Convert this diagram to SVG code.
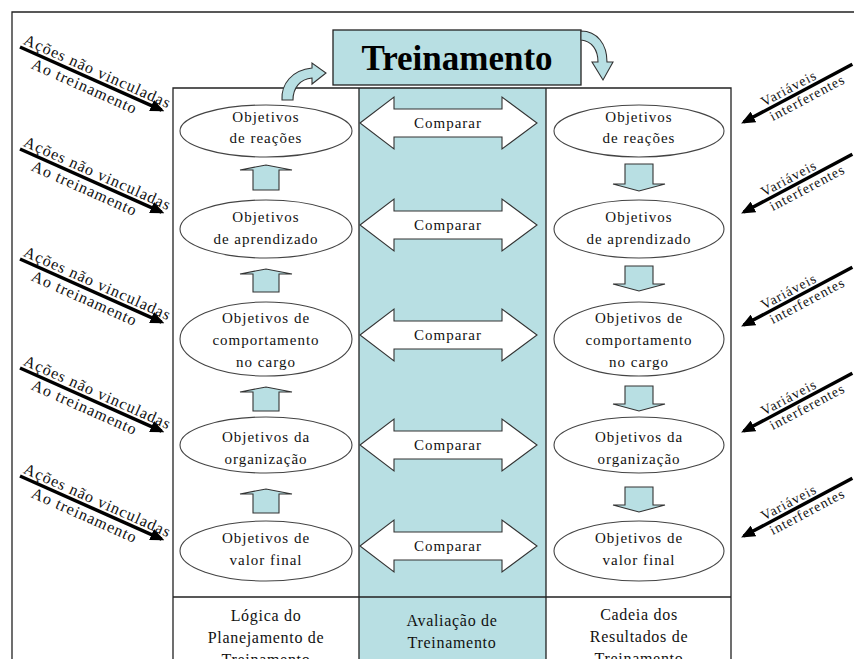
<svg xmlns="http://www.w3.org/2000/svg" width="854" height="659" viewBox="0 0 854 659">
<style>
.ln{fill:none;stroke:#222;stroke-width:1.3}
.teal{fill:#b8dfe3}
.ell{fill:#fff;stroke:#444;stroke-width:1.1}
.cmp{fill:#fff;stroke:#333;stroke-width:1.1}
.blk{fill:#b8dfe3;stroke:#333;stroke-width:1.1}
.t{font-family:"Liberation Serif","Times New Roman",serif;font-size:15px;letter-spacing:1px;text-anchor:middle;fill:#111}
.s{font-family:"Liberation Serif","Times New Roman",serif;font-size:16px;letter-spacing:1px;fill:#111}
.v{font-family:"Liberation Serif","Times New Roman",serif;font-size:14px;letter-spacing:1px;fill:#111}
.b{font-family:"Liberation Serif","Times New Roman",serif;font-size:16px;letter-spacing:0.7px;text-anchor:middle;fill:#111}
.dl{stroke:#000;stroke-width:3.5;marker-end:url(#ah)}
</style>
<defs>
<marker id="ah" markerUnits="userSpaceOnUse" markerWidth="14" markerHeight="12" refX="11" refY="6" orient="auto">
<path d="M0,0 L14,6 L0,12 Z" fill="#000"/>
</marker>
</defs>
<rect width="854" height="659" fill="#fff"/>
<!-- outer frame -->
<path class="ln" d="M12,659 L12,12 L854,12"/>
<!-- table -->
<g id="table">
<rect class="teal" x="359" y="88" width="187" height="571"/>
<path class="ln" d="M173,659 L173,88 L731,88 L731,659 M359,88 L359,659 M546,88 L546,659 M173,597 L731,597"/>
</g>
<!-- title -->
<g id="treinamento">
<rect x="333" y="30" width="248" height="55" fill="#b8dfe3" stroke="#222" stroke-width="1.3"/>
<text x="457" y="70" font-family="'Liberation Serif','Times New Roman',serif" font-size="35" font-weight="bold" text-anchor="middle" fill="#000">Treinamento</text>
</g>
<g id="connectors">
<!-- curved arrows -->
<path class="blk" d="M282,100 C281,84 292,70 312,68 L312,63 L326,73 L312,84 L312,78 C300,79 293,88 293,100 Z"/>
<path class="blk" d="M581,31 C597,31 607,44 607,62 L613,62 L603,80 L592,62 L598,62 C598,50 592,41 581,40 Z"/>
<!-- up arrows left -->
<path class="blk" d="M240,170 L266,165 L292,170 L279,170 L279,190 L253,190 L253,170 Z"/>
<path class="blk" d="M240,274 L266,269 L292,274 L279,274 L279,292 L253,292 L253,274 Z"/>
<path class="blk" d="M240,392 L266,387 L292,392 L279,392 L279,411 L253,411 L253,392 Z"/>
<path class="blk" d="M240,494 L266,489 L292,494 L279,494 L279,513 L253,513 L253,494 Z"/>
<!-- down arrows right -->
<path class="blk" d="M625,164 L653,164 L653,184 L665,184 L639,191 L613,184 L625,184 Z"/>
<path class="blk" d="M625,266 L653,266 L653,284 L665,284 L639,291 L613,284 L625,284 Z"/>
<path class="blk" d="M625,386 L653,386 L653,404 L665,404 L639,411 L613,404 L625,404 Z"/>
<path class="blk" d="M625,487 L653,487 L653,505 L665,505 L639,512 L613,505 L625,505 Z"/>
<!-- compare arrows -->
<g id="cmp1"><path class="cmp" d="M360,123 L394,97 L394,109 L502,109 L502,97 L537,123 L502,149 L502,137 L394,137 L394,149 Z"/><text class="t" x="448" y="128">Comparar</text></g>
<g id="cmp2"><path class="cmp" d="M360,225 L394,199 L394,211 L502,211 L502,199 L537,225 L502,251 L502,239 L394,239 L394,251 Z"/><text class="t" x="448" y="230">Comparar</text></g>
<g id="cmp3"><path class="cmp" d="M360,335 L394,309 L394,321 L502,321 L502,309 L537,335 L502,361 L502,349 L394,349 L394,361 Z"/><text class="t" x="448" y="340">Comparar</text></g>
<g id="cmp4"><path class="cmp" d="M360,445 L394,419 L394,431 L502,431 L502,419 L537,445 L502,471 L502,459 L394,459 L394,471 Z"/><text class="t" x="448" y="450">Comparar</text></g>
<g id="cmp5"><path class="cmp" d="M360,546 L394,520 L394,532 L502,532 L502,520 L537,546 L502,572 L502,560 L394,560 L394,572 Z"/><text class="t" x="448" y="551">Comparar</text></g>
<!-- left diagonal arrows -->
<g transform="translate(20,47) rotate(24)"><line class="dl" x1="0" y1="0" x2="155" y2="0"/><text class="s" x="1" y="-4">Ações não vinculadas</text><text class="s" x="18" y="15">Ao treinamento</text></g>
<g transform="translate(20,149) rotate(24)"><line class="dl" x1="0" y1="0" x2="155" y2="0"/><text class="s" x="1" y="-4">Ações não vinculadas</text><text class="s" x="18" y="15">Ao treinamento</text></g>
<g transform="translate(20,259) rotate(24)"><line class="dl" x1="0" y1="0" x2="155" y2="0"/><text class="s" x="1" y="-4">Ações não vinculadas</text><text class="s" x="18" y="15">Ao treinamento</text></g>
<g transform="translate(20,368) rotate(24)"><line class="dl" x1="0" y1="0" x2="155" y2="0"/><text class="s" x="1" y="-4">Ações não vinculadas</text><text class="s" x="18" y="15">Ao treinamento</text></g>
<g transform="translate(20,476) rotate(24)"><line class="dl" x1="0" y1="0" x2="155" y2="0"/><text class="s" x="1" y="-4">Ações não vinculadas</text><text class="s" x="18" y="15">Ao treinamento</text></g>
<!-- right diagonal arrows -->
<g transform="translate(742,123) rotate(-28)"><line class="dl" x1="125" y1="0" x2="2" y2="0"/><text class="v" x="27" y="-4">Variáveis</text><text class="v" x="28" y="13">interferentes</text></g>
<g transform="translate(742,213) rotate(-28)"><line class="dl" x1="125" y1="0" x2="2" y2="0"/><text class="v" x="27" y="-4">Variáveis</text><text class="v" x="28" y="13">interferentes</text></g>
<g transform="translate(742,326) rotate(-28)"><line class="dl" x1="125" y1="0" x2="2" y2="0"/><text class="v" x="27" y="-4">Variáveis</text><text class="v" x="28" y="13">interferentes</text></g>
<g transform="translate(742,432) rotate(-28)"><line class="dl" x1="125" y1="0" x2="2" y2="0"/><text class="v" x="27" y="-4">Variáveis</text><text class="v" x="28" y="13">interferentes</text></g>
<g transform="translate(742,537) rotate(-28)"><line class="dl" x1="125" y1="0" x2="2" y2="0"/><text class="v" x="27" y="-4">Variáveis</text><text class="v" x="28" y="13">interferentes</text></g>
</g>
<!-- left ellipses -->
<g id="l1"><ellipse class="ell" cx="266" cy="131" rx="86" ry="26"/><text class="t" x="266" y="122">Objetivos</text><text class="t" x="266" y="143">de reações</text></g>
<g id="l2"><ellipse class="ell" cx="266" cy="229" rx="86" ry="29"/><text class="t" x="266" y="222">Objetivos</text><text class="t" x="266" y="244">de aprendizado</text></g>
<g id="l3"><ellipse class="ell" cx="266" cy="339" rx="86" ry="37"/><text class="t" x="266" y="323">Objetivos de</text><text class="t" x="266" y="345">comportamento</text><text class="t" x="266" y="367">no cargo</text></g>
<g id="l4"><ellipse class="ell" cx="266" cy="445" rx="86" ry="28"/><text class="t" x="266" y="442">Objetivos da</text><text class="t" x="266" y="464">organização</text></g>
<g id="l5"><ellipse class="ell" cx="266" cy="551" rx="86" ry="30"/><text class="t" x="266" y="543">Objetivos de</text><text class="t" x="266" y="565">valor final</text></g>
<!-- right ellipses -->
<g id="r1"><ellipse class="ell" cx="639" cy="131" rx="85" ry="26"/><text class="t" x="639" y="122">Objetivos</text><text class="t" x="639" y="143">de reações</text></g>
<g id="r2"><ellipse class="ell" cx="639" cy="229" rx="85" ry="29"/><text class="t" x="639" y="222">Objetivos</text><text class="t" x="639" y="244">de aprendizado</text></g>
<g id="r3"><ellipse class="ell" cx="639" cy="339" rx="85" ry="37"/><text class="t" x="639" y="323">Objetivos de</text><text class="t" x="639" y="345">comportamento</text><text class="t" x="639" y="367">no cargo</text></g>
<g id="r4"><ellipse class="ell" cx="639" cy="445" rx="85" ry="28"/><text class="t" x="639" y="442">Objetivos da</text><text class="t" x="639" y="464">organização</text></g>
<g id="r5"><ellipse class="ell" cx="639" cy="551" rx="85" ry="30"/><text class="t" x="639" y="543">Objetivos de</text><text class="t" x="639" y="565">valor final</text></g>
<!-- bottom labels -->
<g id="lab1"><text class="b" x="266" y="621">Lógica do</text><text class="b" x="266" y="643">Planejamento de</text><text class="b" x="266" y="665">Treinamento</text></g>
<g id="lab2"><text class="b" x="452" y="626">Avaliação de</text><text class="b" x="452" y="648">Treinamento</text></g>
<g id="lab3"><text class="b" x="639" y="620">Cadeia dos</text><text class="b" x="639" y="642">Resultados de</text><text class="b" x="639" y="664">Treinamento</text></g>
</svg>
